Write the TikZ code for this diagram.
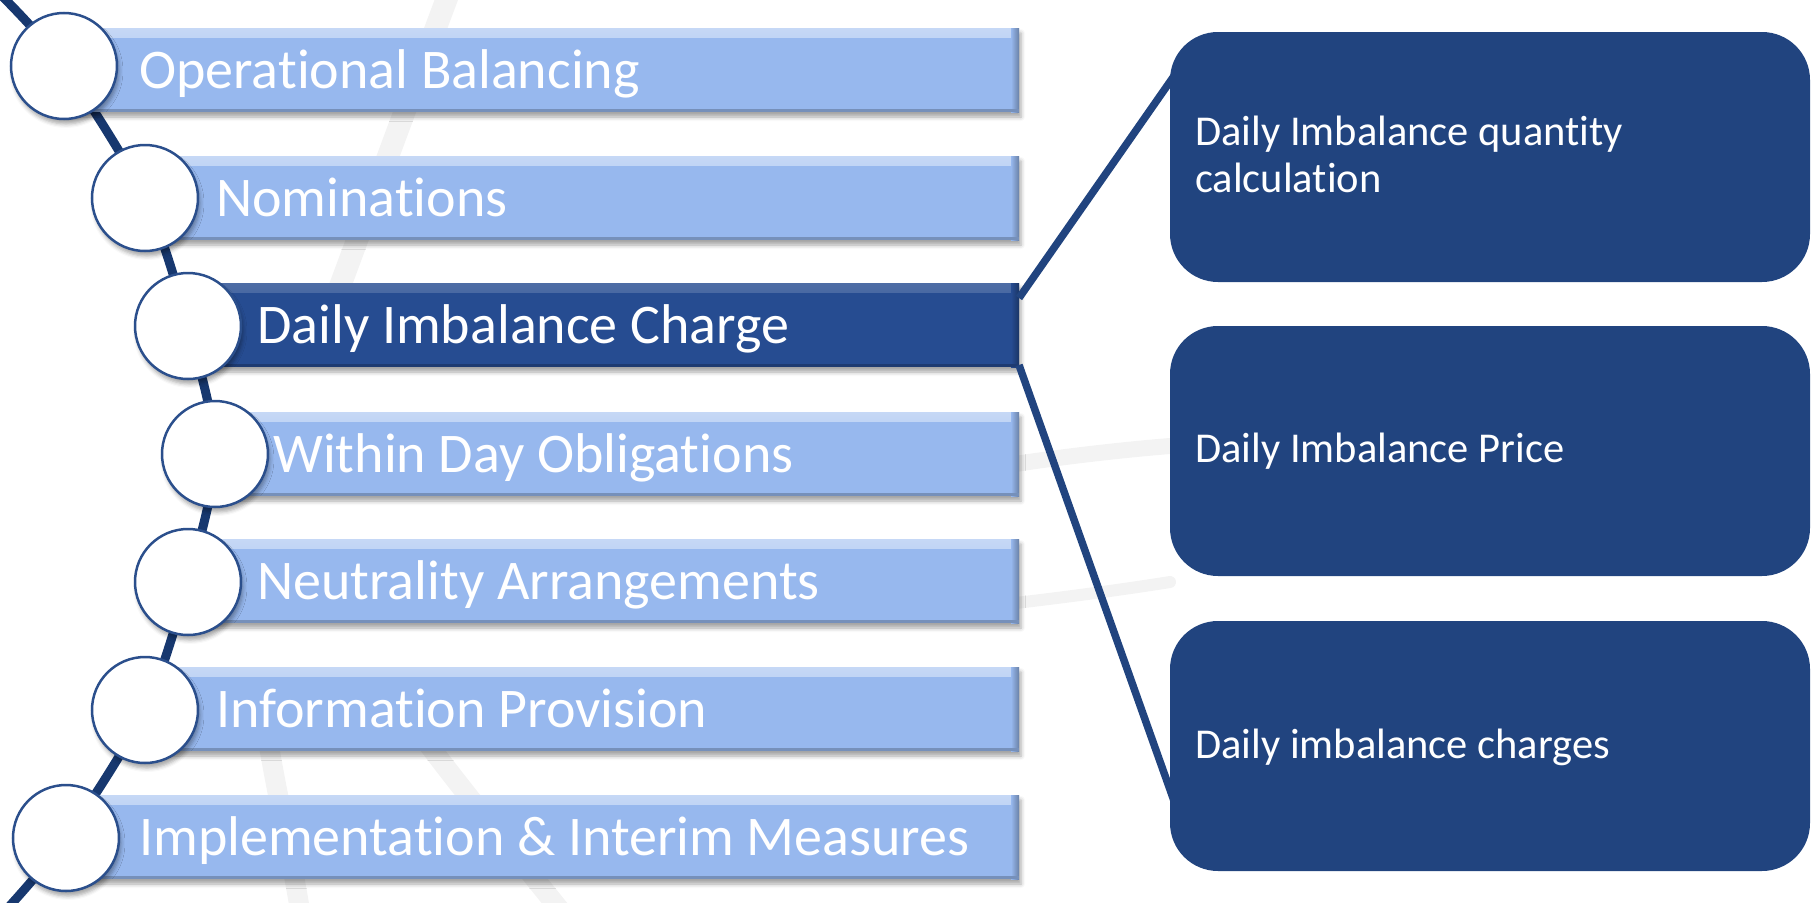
\documentclass[tikz,border=0pt]{standalone}
\usepackage{fontspec}
\setmainfont{Carlito}[Ligatures=NoCommon]
\usetikzlibrary{shadows.blur}
\definecolor{barlight}{HTML}{97B8EE}
\definecolor{bardark}{HTML}{264C91}
\definecolor{boxblue}{HTML}{21447F}
\definecolor{spinec}{HTML}{17386F}
\definecolor{ringc}{HTML}{2B4F8C}
\definecolor{wmc}{HTML}{F3F3F3}
\tikzset{
  barbox/.style 2 args={rectangle, inner sep=0pt, outer sep=0pt, minimum height=84pt, fill=#1,
    blur shadow={shadow xshift=2pt, shadow yshift=-5pt, shadow blur radius=4pt, shadow opacity=35},
    path picture={
      \fill[top color=white!#2!#1, bottom color=#1] (path picture bounding box.north west) rectangle ([yshift=-9pt]path picture bounding box.north east);
      \fill[left color=#1, right color=black!30!#1] ([xshift=-8pt]path picture bounding box.north east) rectangle (path picture bounding box.south east);
      \fill[black!22!#1] (path picture bounding box.south west) rectangle ([yshift=3pt]path picture bounding box.south east);
    }},
  ring/.style={circle, inner sep=0pt, minimum size=106pt, fill=white, draw=ringc, line width=2.5pt,
    blur shadow={shadow xshift=2pt, shadow yshift=-5pt, shadow blur radius=4pt, shadow opacity=35}},
  bartext/.style={text=white, inner sep=0pt, anchor=base west, font=\fontsize{56}{68}\selectfont},
  infobox/.style={rectangle, rounded corners=48pt, fill=boxblue, minimum width=640pt, minimum height=250pt, inner sep=0pt},
  infotext/.style={text=white, inner sep=0pt, anchor=base west, align=left, font=\fontsize{42.5}{47}\selectfont},
  conn/.style={draw=boxblue, line width=7.5pt},
  spineline/.style={draw=spinec, line width=9pt},
  wmark/.style={draw=wmc, line cap=round}
}
\begin{document}
\begin{tikzpicture}[x=1pt,y=-1pt]
\useasboundingbox (0,0) rectangle (1812,902);
% faint watermark
\draw[wmark, line width=22pt] (450,-10) .. controls (390,150) and (350,260) .. (320,340);
\draw[wmark, line width=16pt] (990,468) .. controls (1050,458) and (1120,450) .. (1170,446);
\draw[wmark, line width=12pt] (990,606) .. controls (1060,598) and (1120,590) .. (1170,582);
\draw[wmark, line width=20pt] (268,740) .. controls (278,800) and (290,850) .. (300,910);
\draw[wmark, line width=20pt] (425,740) .. controls (470,800) and (520,860) .. (560,910);
% coordinates
\coordinate (top) at (2,-4);
\coordinate (bot) at (6,910);
\path (64,66) coordinate (p1) (145,198) coordinate (p2) (188,326) coordinate (p3)
      (215,454) coordinate (p4) (188,582) coordinate (p5) (145,710) coordinate (p6) (66,838) coordinate (p7);
% spine
\draw[spineline] plot[smooth, tension=0.5] coordinates {(top) (p1) (p2) (p3) (p4) (p5) (p6) (p7) (bot)};
% bars
\node[barbox={barlight}{45}, minimum width=955pt, anchor=west] (bar1) at (64,70) {};
\node[barbox={barlight}{45}, minimum width=874pt, anchor=west] (bar2) at (145,198) {};
\node[barbox={bardark}{18}, minimum width=831pt, anchor=west] (bar3) at (188,325) {};
\node[barbox={barlight}{45}, minimum width=804pt, anchor=west] (bar4) at (215,454) {};
\node[barbox={barlight}{45}, minimum width=831pt, anchor=west] (bar5) at (188,581) {};
\node[barbox={barlight}{45}, minimum width=874pt, anchor=west] (bar6) at (145,709) {};
\node[barbox={barlight}{45}, minimum width=953pt, anchor=west] (bar7) at (66,837) {};
% circles
\node[ring] (c1) at (p1) {};
\node[ring] (c2) at (p2) {};
\node[ring] (c3) at (p3) {};
\node[ring] (c4) at (p4) {};
\node[ring] (c5) at (p5) {};
\node[ring] (c6) at (p6) {};
\node[ring] (c7) at (p7) {};
% bar texts
\node[bartext] (t1) at (139,88) {Operational Balancing};
\node[bartext] (t2) at (216,216) {Nominations};
\node[bartext] (t3) at (257,343) {Daily Imbalance Charge};
\node[bartext] (t4) at (273,472) {Within Day Obligations};
\node[bartext] (t5) at (257,599) {Neutrality Arrangements};
\node[bartext] (t6) at (216,727) {Information Provision};
\node[bartext] (t7) at (139,855) {Implementation \& Interim Measures};
% info boxes
\node[infobox] (box1) at (1490,157) {};
\node[infobox] (box2) at (1490,451) {};
\node[infobox] (box3) at (1490,746) {};
% connectors
\draw[conn] ([yshift=-15pt]bar3.north east) -- ([xshift=5pt,yshift=-43pt]box1.north west);
\draw[conn] ([yshift=2pt]bar3.south east) -- ([xshift=11pt,yshift=-74pt]box3.west);
% info texts
\node[infotext] (i1) at (1195,192) {Daily Imbalance quantity\\calculation};
\node[infotext] (i2) at (1195,462) {Daily Imbalance Price};
\node[infotext] (i3) at (1195,758) {Daily imbalance charges};
\end{tikzpicture}
\end{document}
